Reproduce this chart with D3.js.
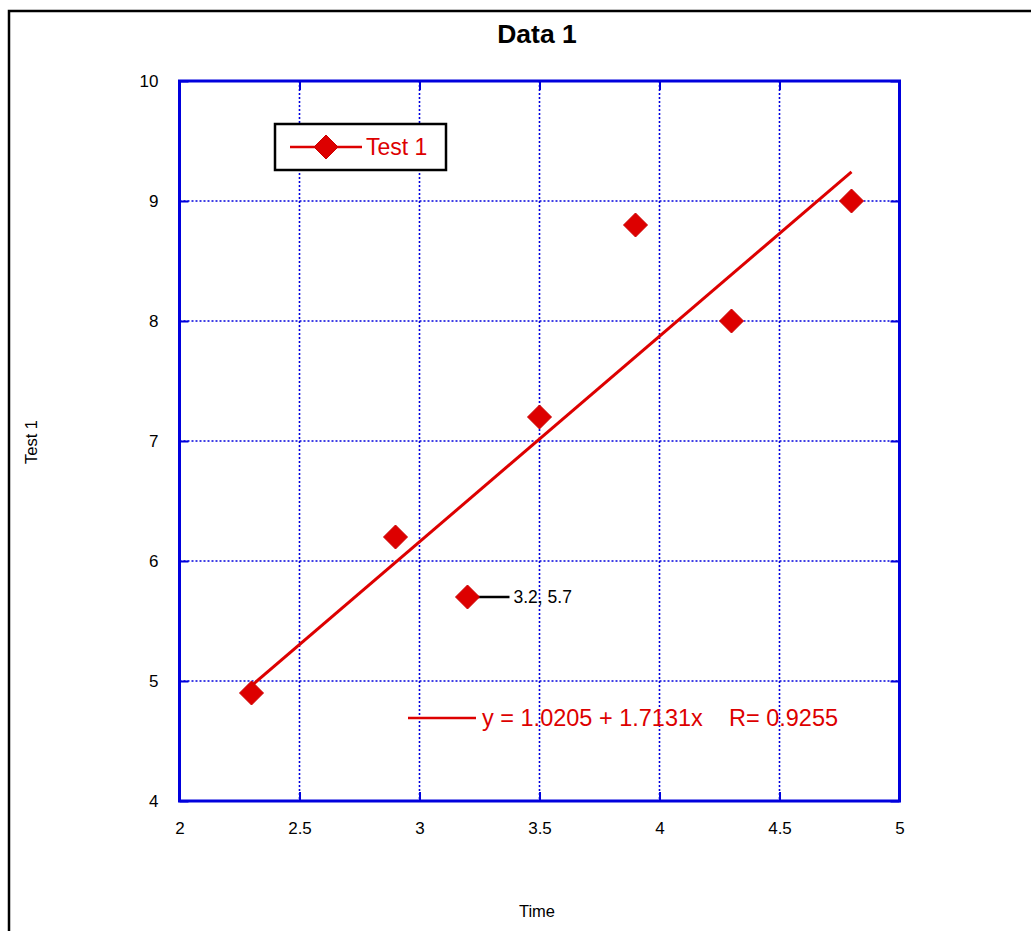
<!DOCTYPE html>
<html><head><meta charset="utf-8">
<script src="https://cdn.jsdelivr.net/npm/d3@7"></script>
<style>body{margin:0;background:#fff}svg{display:block;font-family:"Liberation Sans",Arial,sans-serif}</style>
</head><body>
<script>
const xValues = [2.3, 2.9, 3.2, 3.5, 3.9, 4.3, 4.8];
const yValues = [4.9, 6.2, 5.7, 7.2, 8.8, 8.0, 9.0];
const xTicks = [2, 2.5, 3, 3.5, 4, 4.5, 5];
const yTicks = [4, 5, 6, 7, 8, 9, 10];
const fitIntercept = 1.0205, fitSlope = 1.7131, fitR = 0.9255;
const labelPoint = [3.2, 5.7];
const seriesName = "Test 1";

const W = 1031, H = 931;
const svg = d3.select("body").append("svg").attr("width", W).attr("height", H);
const m = {l:179.5, r:899.5, t:81, b:801};
const x = d3.scaleLinear().domain([2,5]).range([m.l, m.r]);
const y = d3.scaleLinear().domain([4,10]).range([m.b, m.t]);
const blue = "#0000dd", red = "#dd0000";

// outer frame
svg.append("rect").attr("x",9).attr("y",11).attr("width",W+20).attr("height",H+20)
  .attr("fill","none").attr("stroke","#000").attr("stroke-width",2.5);

// title
svg.append("text").attr("x",537).attr("y",43).attr("text-anchor","middle")
  .attr("font-size",26.5).attr("font-weight","bold").text("Data 1");

// grid
const g = svg.append("g");
g.selectAll(".gx").data(xTicks.slice(1,-1)).join("line")
  .attr("x1",d=>x(d)).attr("x2",d=>x(d)).attr("y1",m.t).attr("y2",m.b)
  .attr("stroke",blue).attr("stroke-width",1.6).attr("stroke-dasharray","2,2");
g.selectAll(".gy").data(yTicks.slice(1,-1)).join("line")
  .attr("y1",d=>y(d)).attr("y2",d=>y(d)).attr("x1",m.l).attr("x2",m.r)
  .attr("stroke",blue).attr("stroke-width",1.6).attr("stroke-dasharray","2,2");

// axes with inward ticks
const ax = d3.axisBottom(x).tickValues(xTicks).tickSize(-9).tickFormat(d3.format("~g")).tickPadding(21);
const ay = d3.axisLeft(y).tickValues(yTicks).tickSize(-9).tickFormat(d3.format("~g")).tickPadding(21);
const axT = d3.axisTop(x).tickValues(xTicks).tickSize(-9).tickFormat("");
const ayR = d3.axisRight(y).tickValues(yTicks).tickSize(-9).tickFormat("");
function style(sel){
  sel.attr("font-size",17);
  sel.select(".domain").remove();
  sel.selectAll(".tick line").attr("stroke",blue).attr("stroke-width",2);
  sel.selectAll(".tick text").attr("fill","#000").attr("font-size",17).attr("font-family","Liberation Sans, Arial, sans-serif");
}
svg.append("g").attr("transform",`translate(0,${m.b})`).call(ax).call(style);
svg.append("g").attr("transform",`translate(${m.l},0)`).call(ay).call(style);
svg.append("g").attr("transform",`translate(0,${m.t})`).call(axT).call(style);
svg.append("g").attr("transform",`translate(${m.r},0)`).call(ayR).call(style);

svg.append("rect").attr("x",m.l).attr("y",m.t).attr("width",m.r-m.l).attr("height",m.b-m.t)
  .attr("fill","none").attr("stroke",blue).attr("stroke-width",3);

// axis titles
svg.append("text").attr("x",537).attr("y",917).attr("text-anchor","middle").attr("font-size",16.5).text("Time");
svg.append("text").attr("transform","translate(37,442) rotate(-90)").attr("text-anchor","middle").attr("font-size",16.5).text("Test 1");

// fit line
const xMin = d3.min(xValues), xMax = d3.max(xValues);
svg.append("line").attr("x1",x(xMin)).attr("y1",y(fitIntercept+fitSlope*xMin))
  .attr("x2",x(xMax)).attr("y2",y(fitIntercept+fitSlope*xMax))
  .attr("stroke",red).attr("stroke-width",3);

// label leader
svg.append("line").attr("x1",x(labelPoint[0])).attr("x2",x(labelPoint[0])+42)
  .attr("y1",y(labelPoint[1])).attr("y2",y(labelPoint[1])).attr("stroke","#000").attr("stroke-width",2.5);

// points
const diamond = "M0,-12L12,0L0,12L-12,0Z";
svg.selectAll(".pt").data(xValues.map((v,i)=>[v,yValues[i]])).join("path")
  .attr("d",diamond).attr("transform",d=>`translate(${x(d[0])},${y(d[1])})`)
  .attr("fill",red).attr("stroke","#cc0000").attr("stroke-width",1).attr("stroke-linejoin","round");

svg.append("text").attr("x",x(labelPoint[0])+46).attr("y",y(labelPoint[1])+6)
  .attr("font-size",17.5).text(`${labelPoint[0]}, ${labelPoint[1]}`);

// legend
svg.append("rect").attr("x",275).attr("y",124).attr("width",171).attr("height",46)
  .attr("fill","#fff").attr("stroke","#000").attr("stroke-width",2.5);
svg.append("line").attr("x1",290).attr("x2",362).attr("y1",147).attr("y2",147).attr("stroke",red).attr("stroke-width",2.5);
svg.append("path").attr("d",diamond).attr("transform","translate(326,147)").attr("fill",red).attr("stroke","#cc0000");
svg.append("text").attr("x",366).attr("y",155).attr("font-size",23).attr("fill",red).text(seriesName);

// equation
svg.append("line").attr("x1",408).attr("x2",476).attr("y1",718).attr("y2",718).attr("stroke",red).attr("stroke-width",2.5);
svg.append("text").attr("x",482).attr("y",726).attr("font-size",23.5).attr("fill",red).attr("xml:space","preserve")
  .text(`y = ${fitIntercept.toFixed(4)} + ${fitSlope.toFixed(4)}x    R= ${fitR.toFixed(4)}`);
</script>
</body></html>
